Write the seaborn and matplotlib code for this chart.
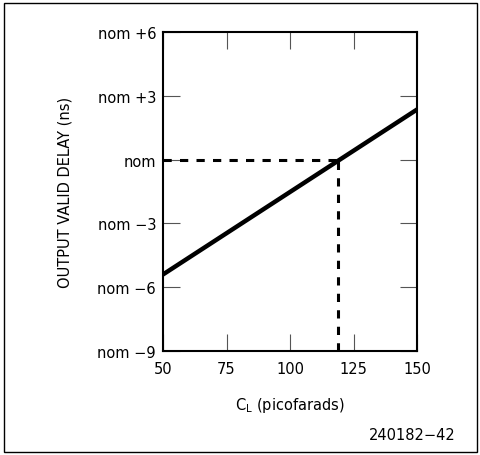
import numpy as np
import pandas as pd
import matplotlib
matplotlib.use("Agg")
import matplotlib.pyplot as plt
import seaborn as sns

# load capacitance (pF) vs output valid delay (ns relative to nominal)
cl_pf = [50, 150]
delay_ns = [-5.4, 2.35]
nom_cl = 119  # where the line crosses nominal

x_ticks = [50, 75, 100, 125, 150]
y_ticks = [-9, -6, -3, 0, 3, 6]
y_labels = ["nom \u22129", "nom \u22126", "nom \u22123", "nom", "nom +3", "nom +6"]

sns.set_theme(style="white")
plt.rcParams['font.family'] = ['DejaVu Sans']
plt.rcParams['text.color'] = 'black'
plt.rcParams['axes.labelcolor'] = 'black'

fig = plt.figure(figsize=(4.81, 4.56), dpi=100)
ax = fig.add_axes([0.339, 0.228, 0.528, 0.700])

df = pd.DataFrame({"cl": cl_pf, "delay": delay_ns})
sns.lineplot(data=df, x="cl", y="delay", ax=ax, color="black", linewidth=3.2)

# dashed guide lines to the nominal point
ax.plot([x_ticks[0], nom_cl], [0, 0], color="black", linewidth=2.2,
        linestyle=(0, (2.7, 2.7)))
ax.plot([nom_cl, nom_cl], [y_ticks[0], 0], color="black", linewidth=2.2,
        linestyle=(0, (2.7, 2.7)))

ax.set_xlim(50, 150)
ax.set_ylim(-9, 6)
ax.set_xticks(x_ticks)
ax.set_yticks(y_ticks)
ax.set_yticklabels(y_labels)

for s in ax.spines.values():
    s.set_linewidth(1.5)
    s.set_color("black")

ax.tick_params(axis="both", which="both", direction="in", length=12.5, width=0.8,
               color="#555555", top=True, right=True, bottom=True, left=True,
               labelsize=10.5, labelcolor="black")
ax.tick_params(axis="x", pad=7)
ax.tick_params(axis="y", pad=5)

ax.set_xlabel("C$_\\mathregular{L}$ (picofarads)", fontsize=10.5, labelpad=14)
ax.set_ylabel("OUTPUT VALID DELAY (ns)", fontsize=10.5, labelpad=18)

fig.text(0.858, 0.046, "240182\u221242", ha="center", va="center", fontsize=10.5)

# frame around the whole figure
fig.patches.append(plt.Rectangle((0.009, 0.007), 0.983, 0.985, transform=fig.transFigure,
                                 fill=False, edgecolor="black", linewidth=1.0))

fig.savefig("out.png", dpi=100)
